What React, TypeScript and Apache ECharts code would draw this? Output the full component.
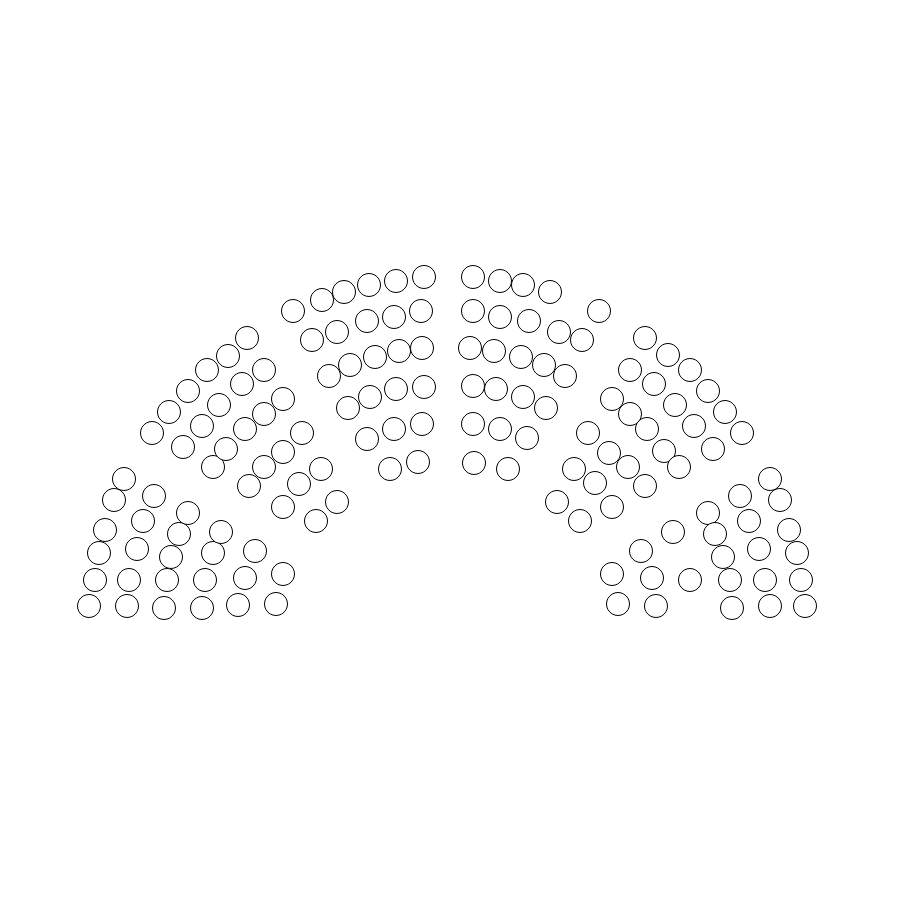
import React, { useEffect, useRef } from "react";
import * as echarts from "echarts";

// Seat positions: [x offset from hemicycle centre, height above baseline]
const sectorA: number[][] = [
  [-359, 0], [-321, 0], [-284, -2], [-246, -2], [-210, 1], [-172, 2],
  [-353, 26], [-319, 26], [-281, 26], [-243, 26], [-203, 28], [-165, 32],
  [-349, 53], [-311, 57], [-277, 49], [-235, 53], [-193, 55],
  [-343, 76], [-305, 85], [-269, 72], [-227, 74],
  [-334, 106], [-294, 110], [-260, 93],
  [-324, 127],
];
const sectorB: number[][] = [
  [-296, 173], [-279, 194], [-260, 215], [-241, 236], [-220, 250], [-201, 268],
  [-265, 159], [-246, 180], [-229, 201], [-206, 222], [-184, 236],
  [-235, 139], [-222, 157], [-203, 177], [-184, 192], [-165, 207],
  [-199, 120], [-184, 139], [-165, 154], [-146, 173],
  [-165, 99], [-149, 122], [-127, 137],
  [-132, 85], [-111, 104],
];
const sectorC: number[][] = [
  [-155, 295], [-126, 306], [-104, 314], [-79, 321], [-52, 325], [-24, 329],
  [-136, 266], [-111, 274], [-81, 285], [-54, 289], [-27, 295],
  [-119, 230], [-98, 241], [-73, 249], [-49, 255], [-26, 258],
  [-100, 198], [-78, 209], [-52, 217], [-24, 219],
  [-81, 167], [-54, 177], [-26, 182],
  [-58, 137], [-30, 144],
];
const sectorD: number[][] = [
  [25, 329], [52, 325], [75, 321], [102, 314], [151, 295],
  [25, 295], [52, 289], [81, 285], [111, 274], [134, 266],
  [22, 258], [46, 255], [73, 249], [96, 241], [117, 230],
  [25, 220], [48, 217], [75, 209], [98, 198],
  [25, 182], [52, 177], [79, 168],
  [26, 143], [60, 137],
];
const sectorE: number[][] = [
  [197, 268], [220, 251], [242, 236], [260, 215], [277, 194], [294, 173],
  [182, 236], [206, 222], [227, 201], [246, 180], [265, 157],
  [164, 207], [182, 192], [199, 177], [216, 155], [231, 139],
  [140, 173], [161, 153], [180, 139], [197, 120],
  [126, 137], [147, 123], [164, 99],
  [109, 104], [132, 85],
];
const sectorF: number[][] = [
  [322, 127],
  [292, 110], [332, 106], [260, 93],
  [301, 85], [341, 76], [225, 74], [267, 72],
  [311, 57], [349, 53], [193, 55], [275, 49],
  [164, 32], [204, 28], [242, 26], [282, 26], [317, 26], [353, 26],
  [170, 2], [208, 0], [284, -2], [322, 0], [357, 0],
];

const sectors = [sectorA, sectorB, sectorC, sectorD, sectorE, sectorF];
const sectorNames = ["A", "B", "C", "D", "E", "F"];

export default function App() {
  const ref = useRef<HTMLDivElement>(null);
  useEffect(() => {
    if (!ref.current) return;
    const chart = echarts.init(ref.current, undefined, { renderer: "svg" });
    chart.setOption({
      animation: false,
      backgroundColor: "#ffffff",
      grid: { left: 0, right: 0, top: 0, bottom: 0 },
      xAxis: { type: "value", min: -448, max: 452, show: false },
      yAxis: { type: "value", min: -294, max: 606, show: false },
      series: sectors.map((data, i) => ({
        name: sectorNames[i],
        type: "scatter",
        data,
        symbol: "circle",
        symbolSize: 23,
        itemStyle: { color: "#ffffff", borderColor: "#000000", borderWidth: 1, opacity: 1 },
        emphasis: { disabled: true },
      })),
    });
    return () => chart.dispose();
  }, []);
  return (
    <div
      ref={ref}
      style={{ position: "absolute", left: 0, top: 0, width: 900, height: 900 }}
    />
  );
}
